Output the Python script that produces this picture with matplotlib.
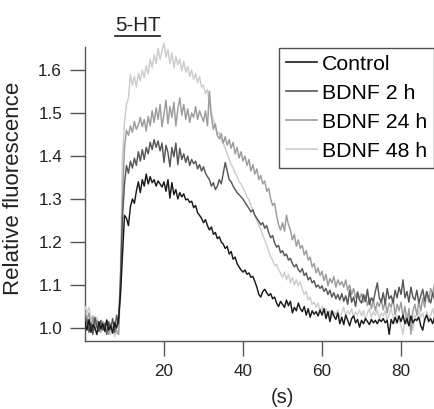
import numpy as np
import matplotlib
matplotlib.use("Agg")
import matplotlib.pyplot as plt

plt.rcParams["font.family"] = ["Liberation Sans", "DejaVu Sans"]

# time base, 0.5 s sampling
t = np.arange(0, 90, 0.5)

control = [
    1.012, 0.995, 1.020, 0.990, 1.008, 1.000, 0.985, 1.015, 0.998, 1.010,
    0.992, 1.018, 0.995, 1.005, 0.988, 1.012, 1.000, 1.022, 1.080, 1.170,
    1.262, 1.255, 1.238, 1.282, 1.300, 1.290, 1.318, 1.340, 1.315, 1.345,
    1.330, 1.358, 1.335, 1.352, 1.338, 1.345, 1.330, 1.342, 1.335, 1.328,
    1.340, 1.318, 1.345, 1.302, 1.338, 1.310, 1.322, 1.300, 1.315, 1.305,
    1.312, 1.298, 1.300, 1.292, 1.295, 1.280, 1.285, 1.268, 1.262, 1.255,
    1.245, 1.252, 1.238, 1.228, 1.235, 1.218, 1.222, 1.208, 1.212, 1.200,
    1.195, 1.185, 1.190, 1.172, 1.178, 1.160, 1.165, 1.150, 1.142, 1.135,
    1.130, 1.135, 1.125, 1.128, 1.118, 1.120, 1.108, 1.095, 1.078, 1.072,
    1.085, 1.090, 1.082, 1.075, 1.080, 1.068, 1.072, 1.058, 1.050, 1.062,
    1.055, 1.048, 1.065, 1.052, 1.062, 1.035, 1.048, 1.040, 1.058, 1.045,
    1.038, 1.050, 1.030, 1.045, 1.025, 1.040, 1.032, 1.038, 1.028, 1.042,
    1.030, 1.045, 1.022, 1.038, 1.015, 1.040, 1.028, 1.020, 1.035, 1.010,
    1.025, 1.008, 1.030, 1.018, 1.005, 1.022, 1.028, 1.012, 1.020, 1.002,
    1.018, 1.010, 1.022, 1.015, 1.008, 1.020, 1.012, 1.018, 1.010, 1.020,
    1.015, 1.022, 1.012, 1.018, 0.985, 1.020, 1.010, 1.025, 1.012, 1.028,
    1.015, 1.030, 1.010, 1.022, 1.005, 1.028, 1.012, 1.020, 1.018, 1.025,
    1.005, 0.995, 1.020, 1.030, 1.015, 1.022, 1.010, 1.025, 1.012, 1.018,
]

bdnf_2h = [
    1.000, 1.020, 0.990, 1.012, 0.985, 1.025, 1.002, 0.992, 1.018, 0.995,
    1.010, 0.985, 1.015, 0.998, 1.022, 0.990, 1.030, 1.010, 1.120, 1.260,
    1.335, 1.378, 1.360, 1.388, 1.372, 1.395, 1.378, 1.410, 1.388, 1.415,
    1.392, 1.420, 1.405, 1.432, 1.415, 1.438, 1.420, 1.435, 1.412, 1.430,
    1.385, 1.425, 1.408, 1.375, 1.420, 1.398, 1.430, 1.380, 1.418, 1.392,
    1.405, 1.385, 1.400, 1.378, 1.392, 1.382, 1.388, 1.370, 1.380, 1.365,
    1.375, 1.360, 1.352, 1.345, 1.330, 1.338, 1.322, 1.330, 1.345, 1.335,
    1.360, 1.385, 1.365, 1.345, 1.340, 1.330, 1.322, 1.315, 1.310, 1.305,
    1.300, 1.292, 1.285, 1.278, 1.270, 1.275, 1.262, 1.255, 1.248, 1.240,
    1.245, 1.232, 1.238, 1.222, 1.210, 1.215, 1.198, 1.188, 1.192, 1.175,
    1.180, 1.168, 1.172, 1.158, 1.162, 1.150, 1.142, 1.148, 1.135, 1.130,
    1.138, 1.122, 1.128, 1.112, 1.118, 1.105, 1.110, 1.095, 1.100, 1.092,
    1.098, 1.085, 1.092, 1.078, 1.088, 1.072, 1.082, 1.068, 1.078, 1.065,
    1.080, 1.062, 1.075, 1.055, 1.088, 1.060, 1.072, 1.050, 1.082, 1.065,
    1.058, 1.078, 1.062, 1.090, 1.055, 1.070, 1.062, 1.085, 1.105, 1.070,
    1.060, 1.082, 1.055, 1.092, 1.068, 1.075, 1.058, 1.088, 1.070, 1.095,
    1.078, 1.112, 1.070, 1.085, 1.060, 1.095, 1.072, 1.065, 1.088, 1.058,
    1.075, 1.090, 1.062, 1.085, 1.070, 1.058, 1.082, 1.065, 1.078, 1.060,
]

bdnf_24h = [
    1.040, 1.020, 1.035, 1.000, 1.025, 0.995, 1.018, 1.005, 0.990, 1.015,
    1.000, 1.020, 0.985, 1.010, 0.995, 1.015, 0.990, 0.985, 1.100, 1.300,
    1.420, 1.460, 1.448, 1.470, 1.455, 1.480, 1.462, 1.472, 1.490, 1.468,
    1.485, 1.458, 1.492, 1.470, 1.505, 1.478, 1.512, 1.485, 1.520, 1.468,
    1.498, 1.530, 1.475, 1.515, 1.490, 1.525, 1.470, 1.510, 1.535, 1.495,
    1.520, 1.485, 1.510, 1.478, 1.500, 1.490, 1.515, 1.485, 1.505, 1.492,
    1.480, 1.505, 1.470, 1.550, 1.490, 1.462, 1.475, 1.448, 1.440, 1.452,
    1.430, 1.445, 1.425, 1.438, 1.418, 1.432, 1.405, 1.420, 1.395, 1.410,
    1.388, 1.400, 1.378, 1.392, 1.365, 1.380, 1.358, 1.370, 1.345, 1.355,
    1.335, 1.342, 1.318, 1.325, 1.300, 1.285, 1.290, 1.262, 1.240, 1.228,
    1.245, 1.225, 1.262, 1.240, 1.228, 1.205, 1.218, 1.190, 1.205, 1.185,
    1.192, 1.170, 1.180, 1.158, 1.165, 1.142, 1.150, 1.128, 1.140, 1.122,
    1.132, 1.110, 1.125, 1.098, 1.115, 1.105, 1.120, 1.095, 1.112, 1.100,
    1.108, 1.095, 1.112, 1.088, 1.100, 1.078, 1.092, 1.070, 1.085, 1.068,
    1.080, 1.060, 1.075, 1.052, 1.070, 1.045, 1.065, 1.040, 1.060, 1.050,
    1.068, 1.042, 1.062, 1.035, 1.058, 1.048, 1.070, 1.030, 1.055, 1.040,
    1.060, 1.025, 1.050, 1.010, 1.045, 0.985, 1.040, 1.055, 1.030, 1.062,
    1.040, 1.070, 1.048, 1.085, 1.060, 1.092, 1.078, 1.105, 1.088, 1.100,
]

bdnf_48h = [
    1.050, 1.035, 1.048, 1.020, 1.030, 1.005, 1.025, 0.995, 1.015, 1.000,
    1.012, 0.990, 1.008, 0.985, 1.005, 0.980, 0.995, 0.990, 1.150, 1.400,
    1.480, 1.520, 1.535, 1.590, 1.565, 1.585, 1.560, 1.592, 1.575, 1.600,
    1.582, 1.610, 1.590, 1.625, 1.605, 1.635, 1.615, 1.650, 1.625, 1.645,
    1.662, 1.630, 1.648, 1.615, 1.640, 1.605, 1.632, 1.612, 1.625, 1.598,
    1.620, 1.595, 1.608, 1.585, 1.600, 1.578, 1.592, 1.570, 1.585, 1.560,
    1.565, 1.545, 1.555, 1.520, 1.500, 1.485, 1.465, 1.450, 1.455, 1.438,
    1.430, 1.418, 1.405, 1.392, 1.380, 1.372, 1.360, 1.352, 1.340, 1.335,
    1.325, 1.318, 1.305, 1.298, 1.285, 1.272, 1.262, 1.250, 1.238, 1.230,
    1.215, 1.205, 1.192, 1.180, 1.165, 1.158, 1.145, 1.148, 1.135, 1.128,
    1.118, 1.130, 1.112, 1.125, 1.105, 1.118, 1.100, 1.112, 1.098, 1.108,
    1.090, 1.078, 1.085, 1.065, 1.072, 1.055, 1.060, 1.048, 1.058, 1.040,
    1.050, 1.035, 1.045, 1.028, 1.040, 1.025, 1.038, 1.030, 1.042, 1.025,
    1.035, 1.048, 1.028, 1.040, 1.032, 1.045, 1.025, 1.038, 1.030, 1.042,
    1.028, 1.040, 1.020, 1.035, 1.045, 1.025, 1.038, 1.030, 1.042, 1.022,
    1.035, 1.028, 1.040, 1.018, 1.032, 1.045, 1.025, 1.010, 1.030, 1.020,
    1.005, 0.985, 1.020, 1.035, 1.010, 1.028, 0.995, 1.030, 1.015, 1.040,
    1.025, 1.035, 1.015, 1.038, 1.020, 1.030, 1.045, 1.025, 1.035, 1.040,
]

labels = ["Control", "BDNF 2 h", "BDNF 24 h", "BDNF 48 h"]
colors = ["#1a1a1a", "#575757", "#9c9c9c", "#cdcdcd"]

stim_start, stim_end = 7.6, 19.0   # 5-HT application (s)

fig = plt.figure(figsize=(4.35, 4.09), dpi=100)
ax = fig.add_axes([85 / 435, 0.1665, 350 / 435, 0.7359])

series = [control, bdnf_2h, bdnf_24h, bdnf_48h]
for i, (y, lab, c) in enumerate(zip(series, labels, colors)):
    ax.plot(t, y, color=c, lw=1.05, label=lab, zorder=10 - i)

ax.set_xlim(0, 88.6)
ax.set_ylim(0.97, 1.67)
ax.set_xticks([20, 40, 60, 80])
ax.set_yticks([1.0, 1.1, 1.2, 1.3, 1.4, 1.5, 1.6])
ax.set_yticklabels(["1.0", "1.1", "1.2", "1.3", "1.4", "1.5", "1.6"])

for s in ["top", "right"]:
    ax.spines[s].set_visible(False)
ax.spines["left"].set_bounds(0.97, 1.653)
for s in ["left", "bottom"]:
    ax.spines[s].set_color("#555555")
    ax.spines[s].set_linewidth(1.0)

ax.tick_params(direction="out", length=10.5, width=1.0, color="#555555",
               labelsize=12.3, labelcolor="#222222", pad=6)

ax.set_ylabel("Relative fluorescence", fontsize=16, color="#222222")
ax.yaxis.set_label_coords(-0.175, 0.508)
ax.set_xlabel("(s)", fontsize=14.5, color="#222222")
ax.xaxis.set_label_coords(0.565, -0.155)

# 5-HT bar
ax.plot([stim_start, stim_end], [1.679, 1.679], color="#1a1a1a", lw=1.2,
        clip_on=False)
ax.text((stim_start + stim_end) / 2, 1.691, "5-HT", ha="center",
        va="baseline", fontsize=14.8, color="#222222")

leg = ax.legend(loc="upper right", bbox_to_anchor=(434 / 435, 1 - 48 / 409),
                bbox_transform=fig.transFigure, fontsize=15.3, frameon=True,
                fancybox=False, edgecolor="#222222", borderaxespad=0,
                handlelength=1.45, handletextpad=0.25, labelspacing=0.47,
                borderpad=0.32)
leg.get_frame().set_linewidth(1.0)
for lh in leg.get_lines():
    lh.set_linewidth(1.2)

plt.savefig("out.png", dpi=100)
